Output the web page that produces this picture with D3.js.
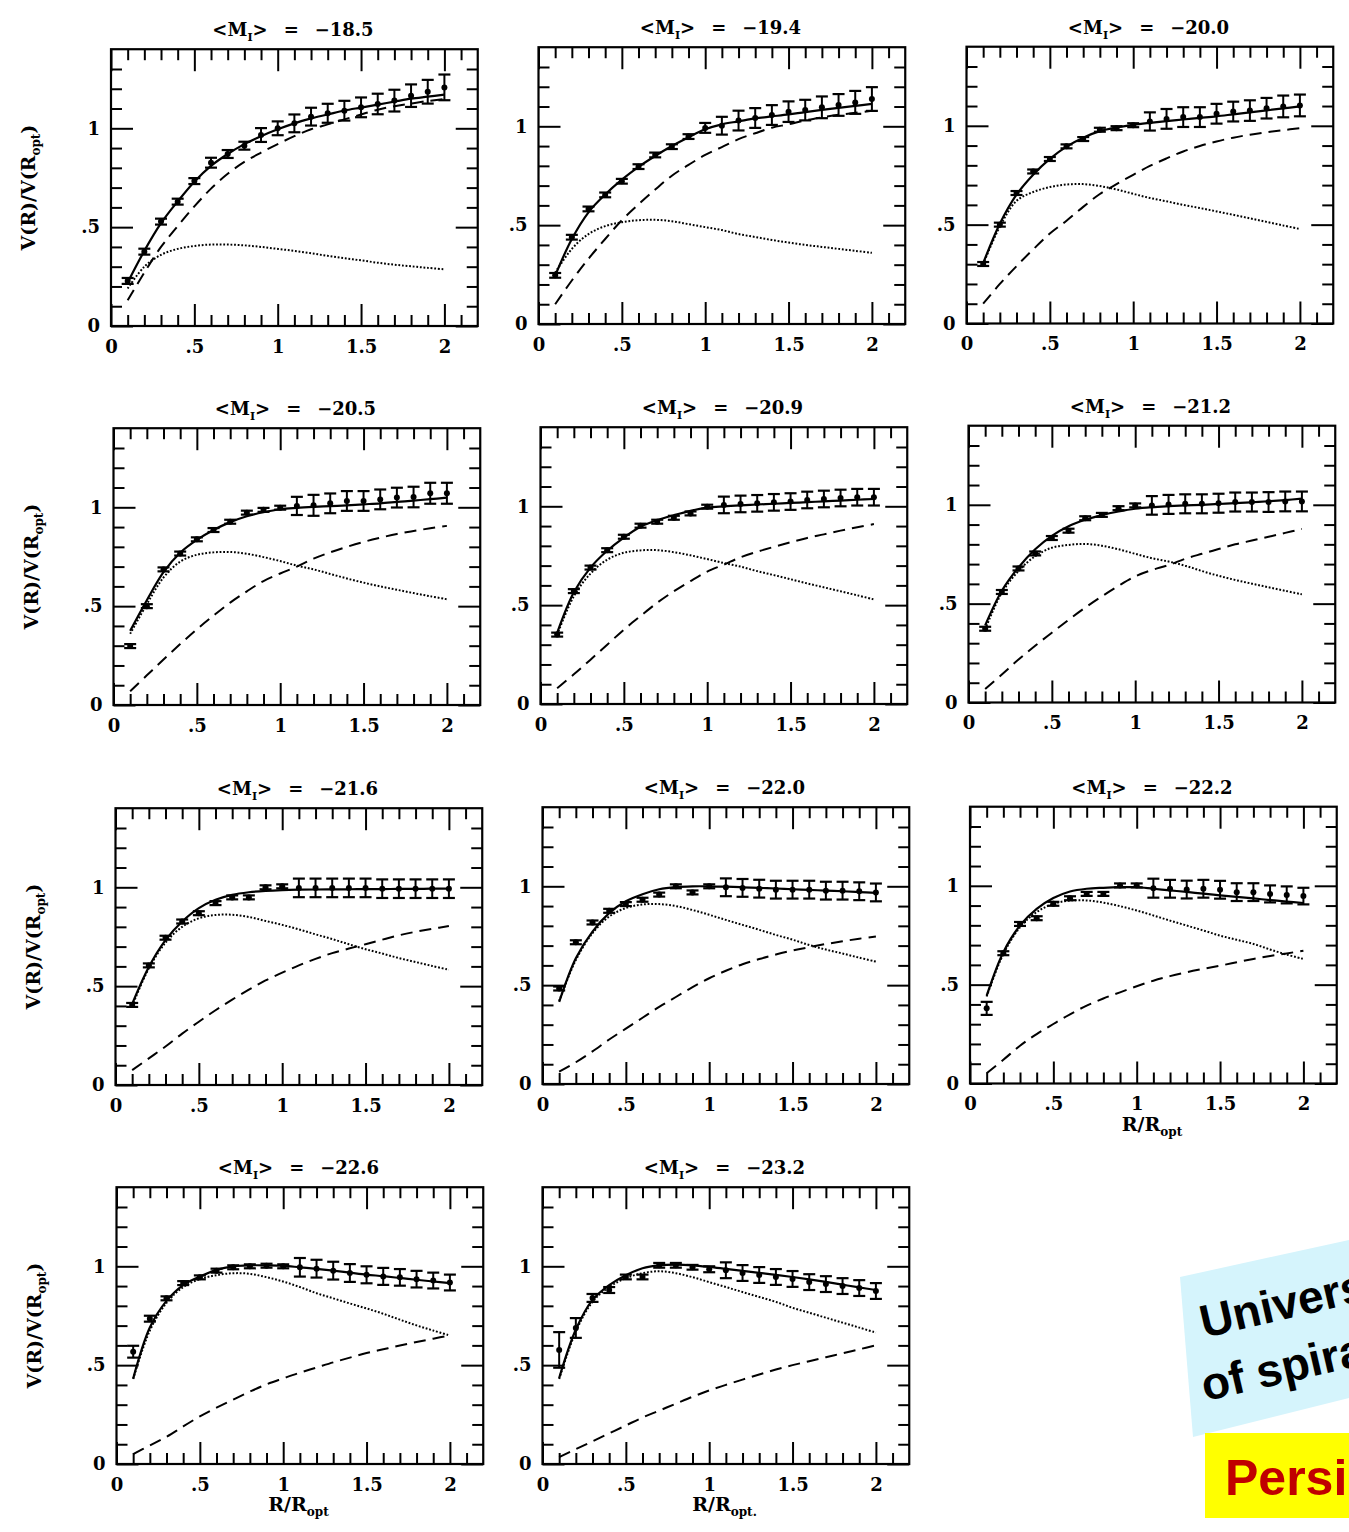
<!DOCTYPE html>
<html>
<head>
<meta charset="utf-8">
<script src="https://cdn.jsdelivr.net/npm/d3@7"></script>
<style>
  body { margin: 0; background: #fff; }
  svg { display: block; }
</style>
</head>
<body>
<svg id="fig" width="1349" height="1532"></svg>
<script>
// Radii of the binned rotation curves, in units of R_opt
const radius = [0.1,0.2,0.3,0.4,0.5,0.6,0.7,0.8,0.9,1.0,1.1,1.2,1.3,1.4,1.5,1.6,1.7,1.8,1.9,2.0];

// Mean I-band magnitude of each luminosity bin
const magnitudes = ["−18.5","−19.4","−20.0","−20.5","−20.9","−21.2","−21.6","−22.0","−22.2","−22.6","−23.2"];

// Co-added V(R)/V(R_opt) in each bin
const observed = [
  [0.228,0.376,0.528,0.629,0.733,0.826,0.870,0.912,0.966,1.000,1.025,1.059,1.076,1.089,1.106,1.123,1.140,1.165,1.185,1.207],
  [0.246,0.439,0.582,0.653,0.722,0.796,0.855,0.897,0.948,0.992,1.003,1.029,1.042,1.057,1.074,1.082,1.096,1.108,1.121,1.138],
  [0.301,0.500,0.660,0.769,0.832,0.896,0.933,0.980,0.988,1.003,1.022,1.035,1.044,1.044,1.061,1.072,1.077,1.089,1.098,1.103],
  [0.298,0.500,0.686,0.766,0.838,0.885,0.927,0.973,0.987,0.998,1.007,1.010,1.020,1.032,1.032,1.040,1.049,1.052,1.071,1.071],
  [0.351,0.571,0.690,0.778,0.846,0.902,0.922,0.942,0.964,0.998,1.007,1.012,1.015,1.020,1.024,1.032,1.037,1.042,1.046,1.046],
  [0.373,0.559,0.678,0.754,0.832,0.869,0.932,0.949,0.983,0.997,0.997,1.002,1.005,1.005,1.008,1.014,1.014,1.014,1.017,1.017],
  [0.405,0.605,0.745,0.827,0.869,0.920,0.949,0.949,1.000,1.005,0.997,0.997,0.997,0.997,0.997,0.993,0.993,0.993,0.993,0.993],
  [0.483,0.717,0.817,0.876,0.910,0.932,0.958,1.000,0.969,1.000,0.995,0.992,0.988,0.983,0.983,0.983,0.978,0.978,0.975,0.969],
  [0.380,0.659,0.807,0.836,0.909,0.937,0.959,0.959,1.002,1.002,0.988,0.985,0.981,0.985,0.980,0.968,0.968,0.959,0.954,0.948],
  [0.568,0.735,0.838,0.915,0.944,0.978,0.995,1.000,1.003,1.000,0.995,0.988,0.978,0.966,0.957,0.949,0.944,0.935,0.928,0.918],
  [0.577,0.688,0.840,0.880,0.946,0.946,1.005,1.005,0.995,0.985,0.980,0.966,0.956,0.946,0.936,0.920,0.910,0.900,0.890,0.875]
];

// One-sigma uncertainty of each co-added point
const errors = [
  [0.015,0.015,0.015,0.015,0.015,0.025,0.020,0.020,0.035,0.035,0.045,0.045,0.048,0.050,0.050,0.052,0.055,0.057,0.060,0.065],
  [0.012,0.012,0.012,0.012,0.012,0.012,0.012,0.012,0.012,0.025,0.045,0.050,0.050,0.050,0.052,0.052,0.055,0.055,0.058,0.060],
  [0.010,0.010,0.010,0.010,0.010,0.010,0.010,0.010,0.010,0.010,0.046,0.050,0.050,0.050,0.050,0.050,0.052,0.052,0.055,0.055],
  [0.010,0.010,0.010,0.010,0.010,0.010,0.010,0.010,0.010,0.010,0.046,0.053,0.050,0.050,0.050,0.050,0.050,0.052,0.053,0.053],
  [0.010,0.010,0.010,0.010,0.010,0.010,0.010,0.010,0.010,0.010,0.042,0.042,0.042,0.042,0.042,0.042,0.042,0.042,0.042,0.042],
  [0.010,0.010,0.010,0.010,0.010,0.010,0.010,0.010,0.010,0.010,0.047,0.048,0.048,0.048,0.048,0.048,0.048,0.050,0.050,0.050],
  [0.010,0.010,0.010,0.010,0.010,0.010,0.010,0.010,0.010,0.010,0.047,0.047,0.047,0.047,0.047,0.047,0.047,0.047,0.047,0.047],
  [0.010,0.010,0.010,0.010,0.010,0.010,0.010,0.010,0.010,0.010,0.045,0.045,0.045,0.045,0.045,0.045,0.045,0.045,0.045,0.045],
  [0.033,0.010,0.010,0.010,0.010,0.010,0.010,0.010,0.010,0.010,0.048,0.045,0.045,0.045,0.045,0.045,0.045,0.043,0.043,0.042],
  [0.030,0.015,0.010,0.010,0.010,0.010,0.010,0.010,0.010,0.010,0.047,0.045,0.045,0.045,0.043,0.043,0.042,0.042,0.040,0.040],
  [0.090,0.050,0.020,0.015,0.012,0.012,0.012,0.012,0.012,0.015,0.040,0.040,0.040,0.040,0.040,0.040,0.040,0.040,0.040,0.040]
];

// Disk + halo model (solid)
const totalFit = [
  [0.220,0.380,0.520,0.630,0.730,0.810,0.870,0.920,0.960,0.995,1.025,1.050,1.070,1.090,1.105,1.120,1.135,1.150,1.160,1.170],
  [0.245,0.430,0.565,0.655,0.730,0.795,0.850,0.900,0.945,0.985,1.010,1.025,1.040,1.050,1.060,1.072,1.083,1.093,1.103,1.113],
  [0.305,0.505,0.652,0.753,0.833,0.895,0.940,0.973,0.992,1.005,1.015,1.024,1.032,1.040,1.048,1.058,1.068,1.078,1.088,1.098],
  [0.375,0.530,0.672,0.770,0.835,0.885,0.925,0.955,0.975,0.990,0.997,1.002,1.006,1.010,1.015,1.020,1.027,1.034,1.041,1.049],
  [0.360,0.565,0.690,0.775,0.842,0.897,0.930,0.955,0.977,0.993,1.000,1.005,1.009,1.013,1.017,1.021,1.025,1.029,1.033,1.037],
  [0.390,0.565,0.683,0.775,0.843,0.892,0.924,0.948,0.966,0.980,0.988,0.993,0.997,1.000,1.004,1.008,1.013,1.018,1.024,1.031],
  [0.410,0.597,0.733,0.827,0.895,0.937,0.962,0.975,0.982,0.986,0.988,0.989,0.990,0.990,0.991,0.991,0.992,0.992,0.993,0.993],
  [0.415,0.636,0.771,0.864,0.924,0.960,0.985,0.996,1.000,1.000,0.998,0.995,0.992,0.989,0.985,0.982,0.978,0.975,0.971,0.967],
  [0.444,0.664,0.799,0.883,0.938,0.971,0.985,0.990,0.993,0.993,0.985,0.977,0.969,0.960,0.952,0.944,0.936,0.928,0.920,0.913],
  [0.432,0.690,0.825,0.905,0.948,0.982,1.000,1.005,1.005,1.003,0.995,0.987,0.978,0.968,0.958,0.950,0.941,0.932,0.923,0.915],
  [0.435,0.680,0.830,0.905,0.955,0.990,1.005,1.008,1.005,0.997,0.987,0.977,0.967,0.957,0.946,0.934,0.921,0.907,0.893,0.880]
];

// Stellar disk contribution (dotted)
const diskFit = [
  [0.190,0.300,0.360,0.390,0.405,0.412,0.412,0.408,0.400,0.390,0.380,0.368,0.355,0.343,0.332,0.320,0.310,0.302,0.294,0.287],
  [0.260,0.380,0.455,0.495,0.515,0.525,0.527,0.520,0.505,0.490,0.475,0.455,0.440,0.425,0.412,0.400,0.390,0.380,0.370,0.360],
  [0.300,0.490,0.620,0.665,0.690,0.703,0.705,0.695,0.678,0.656,0.635,0.618,0.600,0.584,0.567,0.550,0.532,0.514,0.496,0.478],
  [0.360,0.510,0.645,0.725,0.760,0.772,0.774,0.765,0.748,0.728,0.705,0.686,0.663,0.640,0.619,0.600,0.583,0.566,0.550,0.535],
  [0.350,0.545,0.660,0.730,0.765,0.777,0.778,0.768,0.752,0.733,0.713,0.695,0.672,0.652,0.631,0.610,0.590,0.570,0.550,0.529],
  [0.370,0.555,0.665,0.740,0.783,0.797,0.802,0.793,0.775,0.752,0.730,0.713,0.692,0.665,0.641,0.620,0.601,0.583,0.565,0.547],
  [0.400,0.590,0.720,0.800,0.843,0.860,0.861,0.850,0.830,0.810,0.787,0.762,0.738,0.712,0.687,0.665,0.642,0.622,0.602,0.583],
  [0.420,0.627,0.763,0.847,0.890,0.908,0.910,0.900,0.880,0.856,0.830,0.805,0.780,0.754,0.730,0.703,0.680,0.660,0.639,0.619],
  [0.440,0.655,0.790,0.867,0.909,0.925,0.926,0.915,0.897,0.875,0.850,0.824,0.799,0.774,0.748,0.727,0.706,0.678,0.652,0.630],
  [0.430,0.675,0.815,0.895,0.935,0.955,0.965,0.962,0.945,0.923,0.895,0.864,0.838,0.812,0.787,0.760,0.730,0.701,0.675,0.650],
  [0.430,0.670,0.820,0.895,0.940,0.965,0.975,0.965,0.945,0.920,0.895,0.870,0.845,0.820,0.790,0.765,0.740,0.715,0.690,0.665]
];

// Dark halo contribution (dashed)
const haloFit = [
  [0.130,0.270,0.400,0.505,0.605,0.695,0.770,0.830,0.877,0.920,0.960,0.995,1.020,1.045,1.070,1.094,1.112,1.125,1.138,1.148],
  [0.100,0.220,0.330,0.430,0.525,0.605,0.680,0.750,0.805,0.855,0.895,0.935,0.965,0.993,1.010,1.030,1.045,1.058,1.068,1.079],
  [0.100,0.200,0.290,0.375,0.455,0.520,0.590,0.655,0.705,0.752,0.797,0.835,0.870,0.898,0.921,0.940,0.955,0.967,0.978,0.988],
  [0.070,0.150,0.230,0.308,0.383,0.452,0.518,0.575,0.627,0.665,0.700,0.740,0.772,0.800,0.825,0.846,0.865,0.880,0.894,0.906],
  [0.080,0.150,0.224,0.300,0.376,0.445,0.512,0.570,0.622,0.670,0.705,0.742,0.770,0.795,0.818,0.840,0.858,0.877,0.894,0.910],
  [0.068,0.142,0.217,0.287,0.353,0.418,0.480,0.537,0.590,0.638,0.670,0.695,0.727,0.752,0.776,0.800,0.819,0.838,0.858,0.878],
  [0.075,0.135,0.195,0.260,0.320,0.378,0.432,0.482,0.529,0.568,0.605,0.638,0.667,0.690,0.712,0.735,0.757,0.775,0.790,0.804],
  [0.063,0.110,0.165,0.225,0.280,0.335,0.390,0.440,0.490,0.535,0.573,0.606,0.632,0.655,0.675,0.692,0.708,0.722,0.735,0.746],
  [0.052,0.120,0.191,0.250,0.301,0.350,0.394,0.430,0.461,0.492,0.520,0.543,0.563,0.580,0.596,0.613,0.630,0.645,0.658,0.672],
  [0.050,0.094,0.138,0.190,0.241,0.285,0.326,0.366,0.403,0.433,0.462,0.488,0.514,0.538,0.561,0.580,0.599,0.617,0.634,0.650],
  [0.035,0.075,0.115,0.155,0.195,0.235,0.270,0.305,0.340,0.372,0.400,0.427,0.453,0.478,0.500,0.520,0.540,0.560,0.580,0.600]
];

// Axis ticks
const xMajor = [0, 0.5, 1, 1.5, 2];
const xMajorLabels = ["0", ".5", "1", "1.5", "2"];
const yMajor = [0, 0.5, 1];
const yMajorLabels = ["0", ".5", "1"];

// ---------------------------------------------------------------- layout
const PX_PER_R = 166.7, PX_PER_V = 197.7;
const X_MAX = 2.2, Y_MAX = 1.4;
const W = X_MAX * PX_PER_R, H = Y_MAX * PX_PER_V;
// left and bottom edge of each panel frame
const frames = [
  [111, 326], [538.5, 324], [966.5, 323.5],
  [113.5, 705], [540.5, 704], [968.5, 702.5],
  [115.5, 1085], [542.5, 1084], [970, 1083.5],
  [116.5, 1464], [542.5, 1464]
];
const yLabelPanels = [0, 3, 6, 9];
const xLabelPanels = {8: "", 9: "", 10: "."};

const FONT = "'DejaVu Serif', 'Liberation Serif', serif";
const svg = d3.select("#fig");

const minorX = d3.range(1, 22).map(i => i / 10).filter(v => Math.abs(v * 2 - Math.round(v * 2)) > 1e-6);
const minorY = d3.range(1, 14).map(i => i / 10).filter(v => Math.abs(v * 2 - Math.round(v * 2)) > 1e-6);

function styleAxis(g) {
  g.select(".domain").remove();
  g.selectAll(".tick line").attr("stroke", "#000").attr("stroke-width", 2);
  g.selectAll(".tick text")
    .attr("fill", "#000")
    .style("font-family", FONT)
    .style("font-weight", "bold")
    .style("font-size", "18px");
}

frames.forEach(([left, bottom], p) => {
  const x = d3.scaleLinear().domain([0, X_MAX]).range([left, left + W]);
  const y = d3.scaleLinear().domain([0, Y_MAX]).range([bottom, bottom - H]);
  const top = y(Y_MAX), right = x(X_MAX);
  const g = svg.append("g").attr("class", "panel");

  // ticks on all four sides, pointing inward
  const sides = [
    [d3.axisBottom, `translate(0,${bottom})`, x, true],
    [d3.axisTop, `translate(0,${top})`, x, false],
    [d3.axisLeft, `translate(${left},0)`, y, true],
    [d3.axisRight, `translate(${right},0)`, y, false]
  ];
  sides.forEach(([maker, tr, sc, labelled]) => {
    const isX = sc === x;
    g.append("g").attr("transform", tr)
      .call(maker(sc).tickValues(isX ? minorX : minorY).tickSize(-11).tickSizeOuter(0).tickFormat(""))
      .call(styleAxis);
    const majors = isX ? xMajor : yMajor;
    const labels = isX ? xMajorLabels : yMajorLabels;
    g.append("g").attr("transform", tr)
      .call(maker(sc).tickValues(majors).tickSize(-22).tickSizeOuter(0)
        .tickPadding(isX ? 14 : 11)
        .tickFormat(labelled ? (d, i) => labels[i] : ""))
      .call(styleAxis);
  });

  // frame
  g.append("rect")
    .attr("x", left).attr("y", top).attr("width", W).attr("height", H)
    .attr("fill", "none").attr("stroke", "#000").attr("stroke-width", 2.2);

  // model curves
  const line = d3.line().x((d, i) => x(radius[i])).y(d => y(d)).curve(d3.curveCatmullRom.alpha(0.5));
  g.append("path").attr("d", line(haloFit[p]))
    .attr("fill", "none").attr("stroke", "#000").attr("stroke-width", 2)
    .attr("stroke-dasharray", "12,7");
  g.append("path").attr("d", line(diskFit[p]))
    .attr("fill", "none").attr("stroke", "#000").attr("stroke-width", 2)
    .attr("stroke-dasharray", "1.8,1.8");
  g.append("path").attr("d", line(totalFit[p]))
    .attr("fill", "none").attr("stroke", "#000").attr("stroke-width", 2.2);

  // data with error bars
  const pts = g.append("g").selectAll("g").data(observed[p]).join("g");
  pts.append("line")
    .attr("x1", (d, i) => x(radius[i])).attr("x2", (d, i) => x(radius[i]))
    .attr("y1", (d, i) => y(d - errors[p][i])).attr("y2", (d, i) => y(d + errors[p][i]))
    .attr("stroke", "#000").attr("stroke-width", 2);
  [-1, 1].forEach(s => {
    pts.append("line")
      .attr("x1", (d, i) => x(radius[i]) - 6).attr("x2", (d, i) => x(radius[i]) + 6)
      .attr("y1", (d, i) => y(d + s * errors[p][i])).attr("y2", (d, i) => y(d + s * errors[p][i]))
      .attr("stroke", "#000").attr("stroke-width", 2.2);
  });
  pts.append("circle")
    .attr("cx", (d, i) => x(radius[i])).attr("cy", d => y(d)).attr("r", 3)
    .attr("fill", "#000");

  // title  <M_I> = value
  const t = g.append("text")
    .attr("x", left + 182).attr("y", top - 13)
    .attr("text-anchor", "middle")
    .style("font-family", FONT).style("font-weight", "bold").style("font-size", "18px");
  t.append("tspan").text("<M");
  t.append("tspan").text("I").attr("dy", 5).style("font-size", "11px");
  t.append("tspan").text(">").attr("dy", -5);
  t.append("tspan").text("=").attr("dx", 16);
  t.append("tspan").text(magnitudes[p]).attr("dx", 16);

  // ordinate label
  if (yLabelPanels.includes(p)) {
    const yl = g.append("text")
      .attr("transform", `translate(${left - 76},${(top + bottom) / 2}) rotate(-90)`)
      .attr("text-anchor", "middle")
      .style("font-family", FONT).style("font-weight", "bold").style("font-size", "19px");
    yl.append("tspan").text("V(R)/V(R");
    yl.append("tspan").text("opt").attr("dy", 5).style("font-size", "12px");
    yl.append("tspan").text(")").attr("dy", -5);
  }

  // abscissa label
  if (p in xLabelPanels) {
    const xl = g.append("text")
      .attr("x", left + 182).attr("y", bottom + 47)
      .attr("text-anchor", "middle")
      .style("font-family", FONT).style("font-weight", "bold").style("font-size", "19px");
    xl.append("tspan").text("R/R");
    xl.append("tspan").text("opt" + xLabelPanels[p]).attr("dy", 5).style("font-size", "12px");
  }
});

// slide banners in the lower right corner
const banner = svg.append("g");
banner.append("path")
  .attr("d", "M1180,1277 L1349,1240 L1349,1398 L1193,1437 Z")
  .attr("fill", "#d5f4fc");
const bt = banner.append("g").attr("transform", "translate(1204,1338) rotate(-13)");
bt.append("text").text("Univers")
  .style("font-family", "'Liberation Sans', Arial, sans-serif").style("font-weight", "bold")
  .style("font-size", "46px").attr("fill", "#000");
bt.append("text").text("of spira").attr("x", -13).attr("y", 62)
  .style("font-family", "'Liberation Sans', Arial, sans-serif").style("font-weight", "bold")
  .style("font-size", "46px").attr("fill", "#000");

banner.append("rect")
  .attr("x", 1205).attr("y", 1433).attr("width", 144).attr("height", 85)
  .attr("fill", "#ffff00");
banner.append("text").text("Persi")
  .attr("x", 1225).attr("y", 1495)
  .style("font-family", "'Liberation Sans', Arial, sans-serif").style("font-weight", "bold")
  .style("font-size", "50px").attr("fill", "#c00000");
</script>
</body>
</html>
